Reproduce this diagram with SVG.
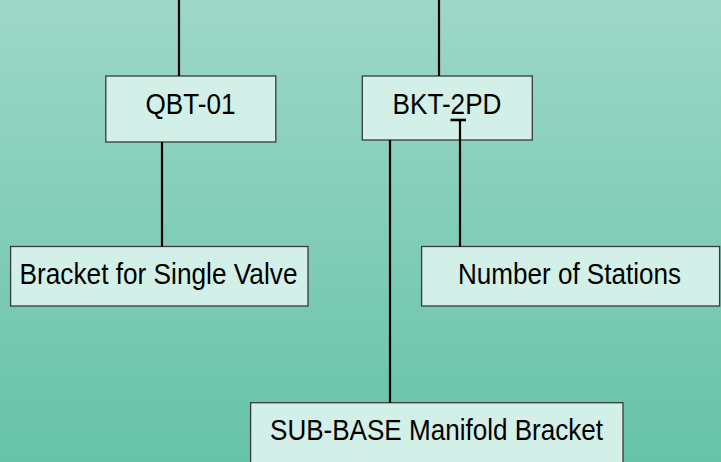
<svg xmlns="http://www.w3.org/2000/svg" width="721" height="462" viewBox="0 0 721 462">
  <defs>
    <linearGradient id="bg" x1="0" y1="0" x2="0" y2="1">
      <stop offset="0" stop-color="#9dd7c8"/>
      <stop offset="1" stop-color="#66c3a8"/>
    </linearGradient>
  </defs>
  <style>
    .box { fill: #d2f0e8; stroke: #3a3a3a; stroke-width: 1.3; }
    .lbl { font-family: "Liberation Sans", Arial, sans-serif; font-size: 29px; fill: #000; text-anchor: middle; }
    .conn line { stroke: #000; stroke-width: 2.2; }
  </style>
  <rect x="0" y="0" width="721" height="462" fill="url(#bg)"/>

  <g id="node-qbt01">
    <rect class="box" x="105.8" y="76" width="170" height="66"/>
    <text class="lbl" x="190.5" y="114" textLength="90" lengthAdjust="spacingAndGlyphs">QBT-01</text>
  </g>
  <g id="node-bkt2pd">
    <rect class="box" x="362.3" y="76" width="170" height="64"/>
    <text class="lbl" x="447" y="114" textLength="109" lengthAdjust="spacingAndGlyphs">BKT-2PD</text>
  </g>
  <g id="node-bracket-single">
    <rect class="box" x="10.6" y="246.5" width="297.4" height="59.5"/>
    <text class="lbl" x="158.5" y="284" textLength="278" lengthAdjust="spacingAndGlyphs">Bracket for Single Valve</text>
  </g>
  <g id="node-stations">
    <rect class="box" x="421.6" y="246.5" width="298" height="59.5"/>
    <text class="lbl" x="569.5" y="284" textLength="223" lengthAdjust="spacingAndGlyphs">Number of Stations</text>
  </g>
  <g id="node-subbase">
    <rect class="box" x="250.6" y="402.7" width="372.4" height="70"/>
    <text class="lbl" x="436.5" y="440" textLength="333" lengthAdjust="spacingAndGlyphs">SUB-BASE Manifold Bracket</text>
  </g>

  <g id="connectors" class="conn">
    <line x1="179" y1="0" x2="179" y2="76"/>
    <line x1="439" y1="0" x2="439" y2="76"/>
    <line x1="162" y1="142" x2="162" y2="246.5"/>
    <line x1="390" y1="140" x2="390" y2="402.7"/>
    <line x1="460" y1="120" x2="460" y2="246.5"/>
    <line x1="450.5" y1="120" x2="466" y2="120" style="stroke-width:2.6"/>
  </g>
</svg>
